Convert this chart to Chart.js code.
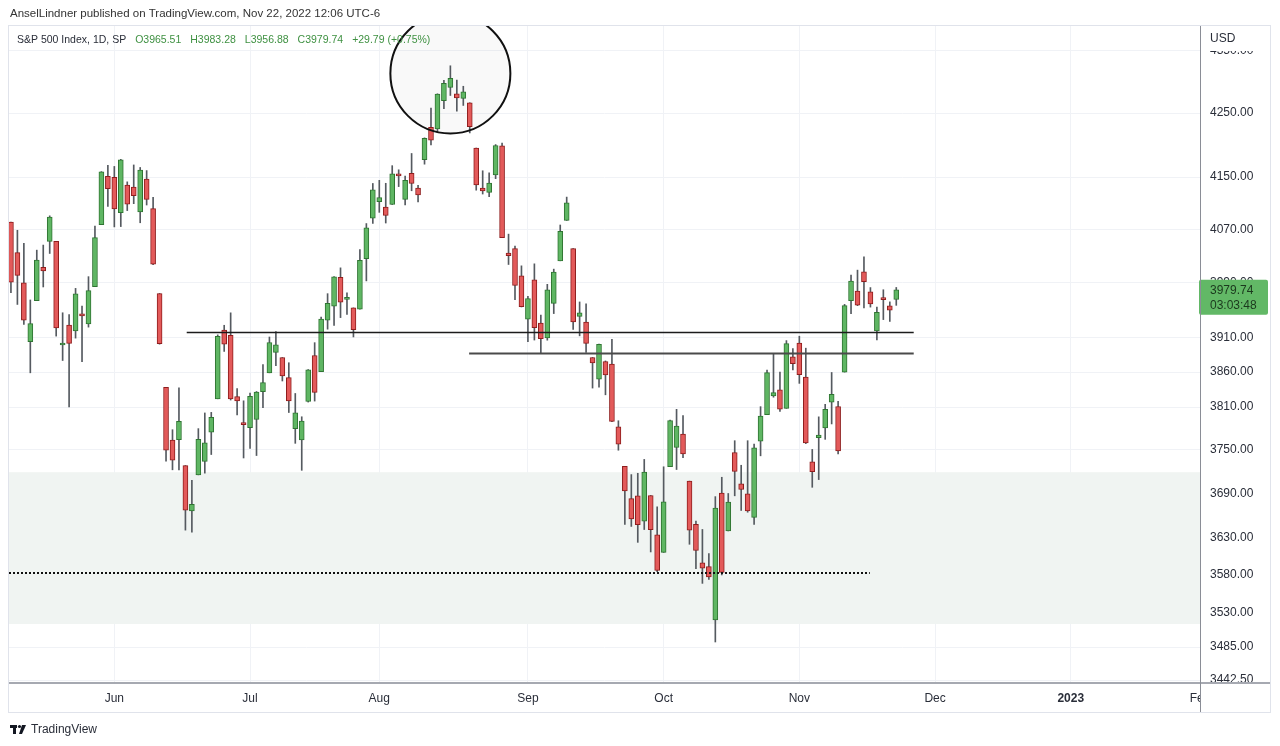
<!DOCTYPE html>
<html>
<head>
<meta charset="utf-8">
<title>S&amp;P 500 Index, 1D</title>
<script src="https://cdn.jsdelivr.net/npm/chart.js@4.4.0/dist/chart.umd.min.js"></script>
<style>
  html, body { margin: 0; padding: 0; background: #fff; }
  #wrap { width: 1280px; height: 746px; }
</style>
</head>
<body>
<div id="wrap"><canvas id="chartSpx" width="1280" height="746"></canvas></div>
<script>
(function() {
  'use strict';

  // Daily candles, 9 May 2022 .. 22 Nov 2022 (one per trading day)
  const dates = [
    'May 9','May 10','May 11','May 12','May 13','May 16','May 17','May 18','May 19','May 20',
    'May 23','May 24','May 25','May 26','May 27','May 31','Jun 1','Jun 2','Jun 3','Jun 6',
    'Jun 7','Jun 8','Jun 9','Jun 10','Jun 13','Jun 14','Jun 15','Jun 16','Jun 17','Jun 21',
    'Jun 22','Jun 23','Jun 24','Jun 27','Jun 28','Jun 29','Jun 30','Jul 1','Jul 5','Jul 6',
    'Jul 7','Jul 8','Jul 11','Jul 12','Jul 13','Jul 14','Jul 15','Jul 18','Jul 19','Jul 20',
    'Jul 21','Jul 22','Jul 25','Jul 26','Jul 27','Jul 28','Jul 29','Aug 1','Aug 2','Aug 3',
    'Aug 4','Aug 5','Aug 8','Aug 9','Aug 10','Aug 11','Aug 12','Aug 15','Aug 16','Aug 17',
    'Aug 18','Aug 19','Aug 22','Aug 23','Aug 24','Aug 25','Aug 26','Aug 29','Aug 30','Aug 31',
    'Sep 1','Sep 2','Sep 6','Sep 7','Sep 8','Sep 9','Sep 12','Sep 13','Sep 14','Sep 15',
    'Sep 16','Sep 19','Sep 20','Sep 21','Sep 22','Sep 23','Sep 26','Sep 27','Sep 28','Sep 29',
    'Sep 30','Oct 3','Oct 4','Oct 5','Oct 6','Oct 7','Oct 10','Oct 11','Oct 12','Oct 13',
    'Oct 14','Oct 17','Oct 18','Oct 19','Oct 20','Oct 21','Oct 24','Oct 25','Oct 26','Oct 27',
    'Oct 28','Oct 31','Nov 1','Nov 2','Nov 3','Nov 4','Nov 7','Nov 8','Nov 9','Nov 10',
    'Nov 11','Nov 14','Nov 15','Nov 16','Nov 17','Nov 18','Nov 21','Nov 22'
  ];
  const opens = [
    4081.3,4035.2,3990.1,3904.0,3963.9,4013.0,4052.0,4052.0,3899.0,3927.8,
    3919.4,3942.9,3929.6,3984.6,4077.4,4151.1,4149.8,4095.4,4137.6,4134.7,
    4096.5,4147.1,4101.7,3974.4,3838.2,3763.5,3764.1,3728.2,3665.9,3715.3,
    3733.9,3774.7,3821.8,3920.8,3913.0,3825.1,3786.0,3781.0,3792.6,3832.0,
    3858.9,3888.3,3880.9,3852.0,3779.7,3764.0,3818.0,3883.8,3860.7,3935.3,
    3955.5,3998.4,3965.7,3953.2,3951.4,4026.1,4087.3,4112.4,4104.2,4108.0,
    4154.9,4115.9,4155.9,4133.1,4176.9,4227.4,4225.0,4269.4,4290.5,4280.4,
    4273.1,4266.3,4195.1,4133.1,4126.6,4153.3,4198.7,4034.6,4041.3,4000.7,
    3936.7,3994.7,3930.9,3909.4,3959.9,4022.9,4083.7,4041.2,3940.7,3932.4,
    3881.0,3849.9,3875.2,3871.4,3782.4,3727.1,3682.7,3686.4,3651.9,3687.0,
    3633.5,3609.8,3726.5,3753.3,3772.0,3706.7,3647.5,3595.9,3590.8,3520.4,
    3690.4,3638.7,3746.3,3703.1,3689.1,3657.1,3762.0,3799.4,3826.0,3834.7,
    3808.3,3881.9,3901.8,3852.9,3733.3,3767.0,3780.7,3817.0,3810.9,3859.9,
    3963.7,3978.0,4006.4,3976.8,3919.3,3966.4,3956.2,3965.51
  ];
  const highs = [
    4081.3,4068.8,4049.1,3964.8,4038.9,4046.5,4090.7,4052.0,3946.0,3943.4,
    3981.9,3955.7,3999.3,4075.1,4158.5,4168.3,4166.5,4177.5,4142.7,4168.8,
    4164.9,4160.1,4119.1,3974.4,3838.2,3778.2,3837.6,3728.2,3707.7,3779.7,
    3801.8,3802.6,3913.7,3927.7,3945.9,3836.5,3819.0,3829.8,3832.2,3870.9,
    3910.6,3918.5,3880.9,3873.4,3829.4,3796.4,3863.6,3902.4,3939.8,3974.1,
    3999.3,4012.4,3975.3,3953.2,4039.6,4079.0,4140.2,4145.0,4140.5,4167.7,
    4161.3,4151.6,4186.6,4137.3,4211.0,4257.9,4280.5,4301.8,4325.3,4302.2,
    4292.5,4266.3,4195.1,4159.8,4156.6,4200.5,4203.0,4063.0,4045.0,4015.4,
    3970.2,4018.4,3942.6,3987.9,4010.5,4076.8,4119.3,4041.2,3961.9,3959.1,
    3881.0,3900.5,3876.0,3907.1,3790.8,3727.1,3715.7,3717.5,3736.7,3687.0,
    3671.4,3726.5,3791.9,3806.9,3797.9,3706.7,3652.2,3640.7,3608.3,3685.4,
    3712.0,3689.7,3762.8,3728.6,3762.8,3757.9,3810.7,3862.9,3886.2,3860.0,
    3905.4,3893.7,3911.8,3894.4,3750.6,3796.3,3814.0,3859.4,3818.2,3958.3,
    4001.5,4009.0,4028.8,3983.1,3954.3,3979.9,3962.0,3983.28
  ];
  const lows = [
    3975.5,3958.2,3928.8,3858.9,3963.9,3984.0,4033.9,3911.9,3876.6,3810.3,
    3909.0,3875.1,3925.0,3984.6,4077.4,4104.9,4073.9,4074.4,4098.7,4109.2,
    4080.2,4107.2,4017.2,3900.2,3734.3,3722.3,3722.3,3639.8,3636.9,3715.3,
    3717.7,3743.5,3821.8,3889.7,3820.1,3799.0,3738.7,3752.1,3742.1,3809.4,
    3858.9,3869.3,3847.2,3802.4,3759.1,3721.6,3817.2,3818.6,3860.7,3922.0,
    3927.6,3938.9,3943.5,3910.7,3951.4,3993.0,4079.2,4096.0,4079.8,4108.0,
    4135.4,4107.3,4129.0,4112.1,4170.0,4200.1,4219.8,4256.9,4277.8,4253.1,
    4262.0,4218.7,4129.9,4124.0,4120.0,4147.6,4057.7,4017.4,3965.2,3954.5,
    3903.7,3906.2,3886.8,3906.0,3944.8,4022.9,4083.7,3921.8,3912.3,3888.3,
    3837.1,3838.5,3827.5,3789.5,3749.5,3647.5,3644.8,3623.3,3640.6,3610.4,
    3584.1,3609.8,3726.5,3722.7,3739.2,3620.7,3588.1,3568.5,3573.9,3491.6,
    3579.7,3638.7,3686.5,3666.5,3664.1,3647.4,3741.7,3799.4,3824.1,3803.8,
    3808.3,3863.2,3843.8,3758.7,3698.2,3708.8,3764.7,3786.3,3744.2,3859.9,
    3944.8,3956.4,3953.2,3954.3,3906.5,3936.0,3933.3,3956.88
  ];
  const closes = [
    3991.2,4001.1,3935.2,3930.1,4023.9,4008.0,4088.9,3923.7,3900.8,3901.4,
    3973.8,3941.5,3978.7,4057.8,4158.2,4132.2,4101.2,4176.8,4108.5,4121.4,
    4160.7,4115.8,4017.8,3900.9,3749.6,3735.5,3790.0,3666.8,3674.8,3764.8,
    3759.9,3795.7,3911.7,3900.1,3821.6,3818.8,3785.4,3825.3,3831.4,3845.1,
    3902.6,3899.4,3854.4,3818.8,3801.8,3790.4,3863.2,3830.9,3936.7,3959.9,
    3999.0,3961.6,3966.8,3921.1,4023.6,4072.4,4130.3,4118.6,4091.2,4155.2,
    4151.9,4145.2,4140.1,4122.5,4210.2,4207.3,4280.2,4297.1,4305.2,4274.0,
    4283.7,4228.5,4138.0,4128.7,4140.8,4199.1,4057.7,4030.6,3986.2,3955.0,
    3966.9,3924.3,3908.2,3979.9,4006.2,4067.4,4110.4,3932.7,3946.0,3901.4,
    3873.3,3899.9,3855.9,3789.9,3758.0,3693.2,3655.0,3647.3,3719.0,3640.5,
    3585.6,3678.4,3790.9,3783.3,3744.5,3639.7,3612.4,3588.8,3577.0,3669.9,
    3583.1,3678.0,3720.0,3695.2,3665.8,3752.8,3797.3,3859.1,3830.6,3807.3,
    3901.1,3872.0,3856.1,3759.7,3719.9,3770.6,3806.8,3828.1,3748.6,3956.4,
    3992.9,3957.3,3991.7,3958.8,3946.6,3965.3,3949.9,3979.74
  ];

  // Axis ticks
  const priceTicks = [4350, 4250, 4150, 4070, 3990, 3910, 3860, 3810, 3750, 3690, 3630, 3580, 3530, 3485, 3442.5];
  const monthTickIdx = [16, 37, 57, 80, 101, 122, 143, 164, 184];
  const monthTickLabels = ['Jun', 'Jul', 'Aug', 'Sep', 'Oct', 'Nov', 'Dec', '2023', 'Feb'];

  // Drawings made on the chart (price level, start/end bar index)
  const levelPrices = [3918, 3888];
  const levelFrom = [27.2, 70.9];
  const levelTo = [139.7, 139.7];
  const supportPrice = 3582;
  const supportTo = 132.9;
  const zonePrices = [3719, 3515];
  const circleCenter = [68.0, 4313];

  const UP_FILL = '#5fb663', UP_LINE = '#2f7432';
  const DN_FILL = '#e35a5a', DN_LINE = '#8f1d1d';

  const bodies = dates.map((d, i) => ({ x: i, y: [opens[i], closes[i]] }));
  const wicks = dates.map((d, i) => ({ x: i, y: [lows[i], highs[i]] }));
  const isUp = dates.map((d, i) => closes[i] >= opens[i]);

  const FONT = '"Liberation Sans", Arial, sans-serif';

  const overlay = {
    id: 'overlay',
    beforeDatasetsDraw(chart) {
      const { ctx, chartArea: a, scales: { x, y } } = chart;
      ctx.save();
      ctx.beginPath();
      ctx.rect(a.left, a.top, a.right - a.left, a.bottom - a.top);
      ctx.clip();
      // shaded zone
      const zy1 = y.getPixelForValue(zonePrices[0]);
      const zy2 = y.getPixelForValue(zonePrices[1]);
      ctx.fillStyle = '#f0f4f2';
      ctx.fillRect(a.left, zy1, a.right - a.left, zy2 - zy1);
      // circle fill
      ctx.beginPath();
      ctx.arc(x.getPixelForValue(circleCenter[0]), y.getPixelForValue(circleCenter[1]), 60, 0, Math.PI * 2);
      ctx.fillStyle = 'rgba(0,0,0,0.025)';
      ctx.fill();
      ctx.restore();
    },
    afterDatasetsDraw(chart) {
      const { ctx, chartArea: a, scales: { x, y } } = chart;
      ctx.save();
      ctx.beginPath();
      ctx.rect(a.left, a.top, a.right - a.left, a.bottom - a.top);
      ctx.clip();
      // horizontal levels
      levelPrices.forEach((p, k) => {
        const py = Math.round(y.getPixelForValue(p)) + 0.5;
        ctx.beginPath();
        ctx.moveTo(x.getPixelForValue(levelFrom[k]), py);
        ctx.lineTo(x.getPixelForValue(levelTo[k]), py);
        ctx.lineWidth = k === 0 ? 1.3 : 1.8;
        ctx.strokeStyle = k === 0 ? '#1c1c1c' : '#4a4a4a';
        ctx.stroke();
      });
      // dotted support
      const sy = Math.round(y.getPixelForValue(supportPrice));
      ctx.beginPath();
      ctx.setLineDash([2, 2]);
      ctx.moveTo(a.left, sy);
      ctx.lineTo(x.getPixelForValue(supportTo), sy);
      ctx.lineWidth = 2;
      ctx.strokeStyle = '#111';
      ctx.stroke();
      ctx.setLineDash([]);
      // circle outline
      ctx.beginPath();
      ctx.arc(x.getPixelForValue(circleCenter[0]), y.getPixelForValue(circleCenter[1]), 60, 0, Math.PI * 2);
      ctx.lineWidth = 2;
      ctx.strokeStyle = '#111';
      ctx.stroke();
      ctx.restore();
    },
    afterDraw(chart) {
      const { ctx, chartArea: a, scales: { y } } = chart;
      ctx.save();
      // header
      ctx.font = '11.5px ' + FONT;
      ctx.fillStyle = '#333';
      ctx.textBaseline = 'middle';
      ctx.textAlign = 'left';
      ctx.fillText('AnselLindner published on TradingView.com, Nov 22, 2022 12:06 UTC-6', 10, 14);

      // legend
      ctx.font = '10.5px ' + FONT;
      let lx = 17;
      ctx.fillStyle = '#2a2e39';
      const name = 'S&P 500 Index, 1D, SP';
      ctx.fillText(name, lx, 40);
      lx += ctx.measureText(name).width + 9;
      ctx.fillStyle = '#3f9142';
      ['O3965.51', 'H3983.28', 'L3956.88', 'C3979.74', '+29.79 (+0.75%)'].forEach(t => {
        ctx.fillText(t, lx, 40);
        lx += ctx.measureText(t).width + 9;
      });

      // price axis top cover + USD
      ctx.fillStyle = '#fff';
      ctx.fillRect(a.right + 1, a.top + 1, 68, 24);
      ctx.fillStyle = '#2a2e39';
      ctx.font = '12px ' + FONT;
      ctx.fillText('USD', a.right + 10, 39);

      // last price label
      const ly = y.getPixelForValue(closes[closes.length - 1]);
      ctx.fillStyle = '#62b866';
      ctx.beginPath();
      ctx.roundRect(a.right - 1, ly - 10, 69, 35, 2);
      ctx.fill();
      ctx.fillStyle = '#1b381d';
      ctx.fillText('3979.74', a.right + 10, ly + 1);
      ctx.fillText('03:03:48', a.right + 10, ly + 16);

      // bottom-right corner cover
      ctx.fillStyle = '#fff';
      ctx.fillRect(a.right + 1, a.bottom - 1, 69, 30);
      ctx.fillStyle = '#a6a9b1';
      ctx.fillRect(a.right, a.bottom - 1, 70, 2);
      ctx.strokeStyle = '#8a8d96';
      ctx.lineWidth = 1;
      ctx.beginPath();
      ctx.moveTo(a.right + 0.5, a.top);
      ctx.lineTo(a.right + 0.5, 712);
      ctx.stroke();

      // outer frame
      ctx.strokeStyle = '#e0e3eb';
      ctx.strokeRect(a.left - 0.5, a.top - 0.5, 1270 - a.left + 1, 712 - a.top + 1);

      // TradingView mark
      ctx.fillStyle = '#131722';
      ctx.fillRect(10, 725, 7, 3);
      ctx.fillRect(13, 725, 3, 9);
      ctx.beginPath();
      ctx.arc(19.5, 726.5, 1.6, 0, Math.PI * 2);
      ctx.fill();
      ctx.beginPath();
      ctx.moveTo(22, 725);
      ctx.lineTo(26, 725);
      ctx.lineTo(22, 734);
      ctx.lineTo(19, 734);
      ctx.closePath();
      ctx.fill();
      ctx.font = '12px ' + FONT;
      ctx.fillStyle = '#2a2e39';
      ctx.fillText('TradingView', 31, 730);
      ctx.restore();
    }
  };

  const ctx = document.getElementById('chartSpx').getContext('2d');
  new Chart(ctx, {
    type: 'bar',
    data: {
      datasets: [{
        label: 'body',
        data: bodies,
        order: 0,
        grouped: false,
        barThickness: 5,
        minBarLength: 2,
        borderWidth: 1,
        borderSkipped: false,
        backgroundColor: isUp.map(u => u ? UP_FILL : DN_FILL),
        borderColor: isUp.map(u => u ? UP_LINE : DN_LINE)
      }, {
        label: 'wick',
        data: wicks,
        order: 1,
        grouped: false,
        barThickness: 1,
        borderWidth: 0,
        backgroundColor: '#555a60'
      }]
    },
    options: {
      responsive: false,
      animation: false,
      layout: { padding: { left: 9, top: 26, right: 10, bottom: 34 } },
      plugins: { legend: { display: false }, tooltip: { enabled: false } },
      scales: {
        x: {
          type: 'linear',
          bounds: 'data',
          offset: false,
          min: -0.3,
          max: 184,
          afterBuildTicks: s => { s.ticks = monthTickIdx.map(v => ({ value: v })); },
          afterFit: s => { s.height = 29; },
          ticks: {
            autoSkip: false,
            maxRotation: 0,
            padding: 8,
            color: '#2a2e39',
            font: c => ({ family: FONT, size: 12, weight: (c.tick && c.tick.value === 164) ? 'bold' : 'normal' }),
            callback: v => monthTickLabels[monthTickIdx.indexOf(v)]
          },
          grid: { color: '#f0f2f6', drawTicks: false, offset: false },
          border: { color: '#a6a9b1', width: 2 }
        },
        y: {
          type: 'logarithmic',
          position: 'right',
          bounds: 'data',
          min: 3438.8,
          max: 4389.7,
          afterBuildTicks: s => { s.ticks = priceTicks.map(v => ({ value: v })); },
          afterFit: s => { s.width = 70; },
          ticks: {
            padding: 10,
            color: '#2a2e39',
            font: { family: FONT, size: 12 },
            callback: v => Number(v).toFixed(2)
          },
          grid: { color: '#f0f2f6', drawTicks: false },
          border: { color: '#8a8d96', width: 1 }
        }
      }
    },
    plugins: [overlay]
  });
})();
</script>
</body>
</html>
